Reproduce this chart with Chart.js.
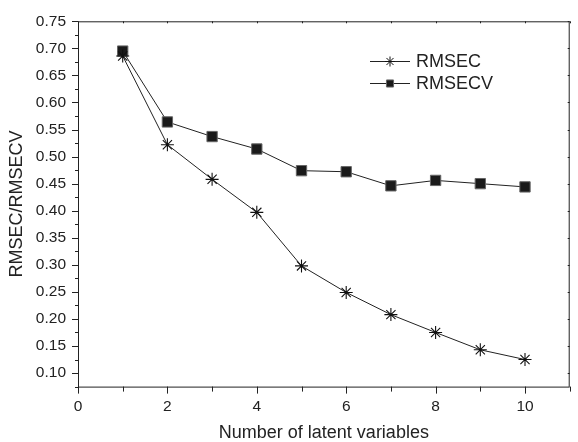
<!DOCTYPE html>
<html>
<head>
<meta charset="utf-8">
<script src="https://cdn.jsdelivr.net/npm/chart.js@4"></script>
<style>
  html, body { margin: 0; padding: 0; background: #fff; }
  #wrap { width: 578px; height: 442px; }
</style>
</head>
<body>
<div id="wrap"><canvas id="chart"></canvas></div>
<script>
const latentVars = [1, 2, 3, 4, 5, 6, 7, 8, 9, 10]
const rmsec = [0.686, 0.522, 0.458, 0.397, 0.298, 0.249, 0.208, 0.175, 0.143, 0.125]
const rmsecv = [0.695, 0.564, 0.537, 0.514, 0.474, 0.472, 0.446, 0.456, 0.450, 0.444]

const xTicks = [0, 2, 4, 6, 8, 10]
const xMinorTicks = [1, 3, 5, 7, 9, 11]
const yTicks = [0.10, 0.15, 0.20, 0.25, 0.30, 0.35, 0.40, 0.45, 0.50, 0.55, 0.60, 0.65, 0.70, 0.75]
const yMinorTicks = [0.075, 0.125, 0.175, 0.225, 0.275, 0.325, 0.375, 0.425, 0.475, 0.525, 0.575, 0.625, 0.675, 0.725]

const ink = '#222'
const font = 'Liberation Sans, Arial, sans-serif'

// frame and tick marks (outward on left/bottom, tiny inward on top/right)
const framePlugin = {
  id: 'frame',
  afterDraw(chart) {
    const { ctx, chartArea: a, scales: { x, y } } = chart
    ctx.save()
    ctx.strokeStyle = ink
    ctx.lineWidth = 1
    ctx.strokeRect(a.left + 0.5, a.top + 0.5, a.right - a.left - 1, a.bottom - a.top)
    ctx.beginPath()
    const tick = (x1, y1, x2, y2) => { ctx.moveTo(x1, y1); ctx.lineTo(x2, y2) }
    xTicks.forEach(v => {
      const px = Math.round(x.getPixelForValue(v)) + 0.5
      tick(px, a.bottom, px, a.bottom + 7)
      tick(px, a.top, px, a.top + 2)
    })
    xMinorTicks.forEach(v => {
      const px = Math.round(x.getPixelForValue(v)) + 0.5
      tick(px, a.bottom, px, a.bottom + 5)
      tick(px, a.top, px, a.top + 2)
    })
    yTicks.forEach(v => {
      const py = Math.round(y.getPixelForValue(v)) + 0.5
      tick(a.left, py, a.left - 6, py)
      tick(a.right, py, a.right - 2, py)
    })
    yMinorTicks.forEach(v => {
      const py = Math.round(y.getPixelForValue(v)) + 0.5
      tick(a.left, py, a.left - 3, py)
    })
    ctx.stroke()
    ctx.restore()
  }
}

// legend drawn as line-marker-line like the original figure
const legendPlugin = {
  id: 'lineLegend',
  afterDraw(chart) {
    const { ctx } = chart
    const rows = [
      { ds: chart.data.datasets[0], y: 61, r: 5 },
      { ds: chart.data.datasets[1], y: 83, r: 5 }
    ]
    ctx.save()
    rows.forEach(row => {
      ctx.strokeStyle = ink
      ctx.lineWidth = 1
      ctx.beginPath()
      ctx.moveTo(370, row.y + 0.5)
      ctx.lineTo(410, row.y + 0.5)
      ctx.stroke()
      ctx.fillStyle = row.ds.pointBackgroundColor
      ctx.strokeStyle = row.ds.pointBorderColor
      Chart.helpers.drawPoint(ctx, { pointStyle: row.ds.pointStyle, radius: row.r, borderWidth: 1, rotation: 0 }, 390, row.y + 0.5)
      ctx.fillStyle = ink
      ctx.font = '18px ' + font
      ctx.textBaseline = 'middle'
      ctx.fillText(row.ds.label, 416, row.y + 1)
    })
    ctx.restore()
  }
}

const toPoints = vals => vals.map((v, i) => ({ x: latentVars[i], y: v }))

new Chart(document.getElementById('chart'), {
  type: 'line',
  data: {
    datasets: [
      {
        label: 'RMSEC',
        data: toPoints(rmsec),
        borderColor: ink,
        borderWidth: 1,
        pointStyle: 'star',
        pointRadius: 6.5,
        pointBorderWidth: 1.1,
        pointBorderColor: '#111',
        pointBackgroundColor: '#111',
        tension: 0
      },
      {
        label: 'RMSECV',
        data: toPoints(rmsecv),
        borderColor: ink,
        borderWidth: 1,
        pointStyle: 'rect',
        pointRadius: 7.3,
        pointBorderWidth: 1,
        pointBorderColor: '#666',
        pointBackgroundColor: '#1a1a1a',
        tension: 0
      }
    ]
  },
  options: {
    responsive: true,
    maintainAspectRatio: false,
    animation: false,
    layout: { padding: { top: 19, right: 1, left: 0, bottom: 0 } },
    plugins: { legend: { display: false }, tooltip: { enabled: false } },
    scales: {
      x: {
        type: 'linear',
        min: 0,
        max: 11,
        afterBuildTicks: s => { s.ticks = xTicks.map(v => ({ value: v })) },
        afterFit: s => { s.height = 55.4 },
        grid: { display: false, drawTicks: false },
        border: { display: false },
        ticks: { color: ink, padding: 11, font: { family: font, size: 15.5 } },
        title: {
          display: true,
          text: 'Number of latent variables',
          color: ink,
          font: { family: font, size: 18, lineHeight: 1 },
          padding: { top: 0, bottom: 0 }
        }
      },
      y: {
        min: 0.075,
        max: 0.75,
        afterBuildTicks: s => { s.ticks = yTicks.map(v => ({ value: v })) },
        afterFit: s => { s.width = 78 },
        grid: { display: false, drawTicks: false },
        border: { display: false },
        ticks: {
          color: ink,
          padding: 12,
          font: { family: font, size: 15.5 },
          callback: v => v.toFixed(2)
        },
        title: {
          display: true,
          text: 'RMSEC/RMSECV',
          color: ink,
          font: { family: font, size: 18, lineHeight: 1 },
          padding: { top: 8, bottom: 0 }
        }
      }
    }
  },
  plugins: [framePlugin, legendPlugin]
})
</script>
</body>
</html>
